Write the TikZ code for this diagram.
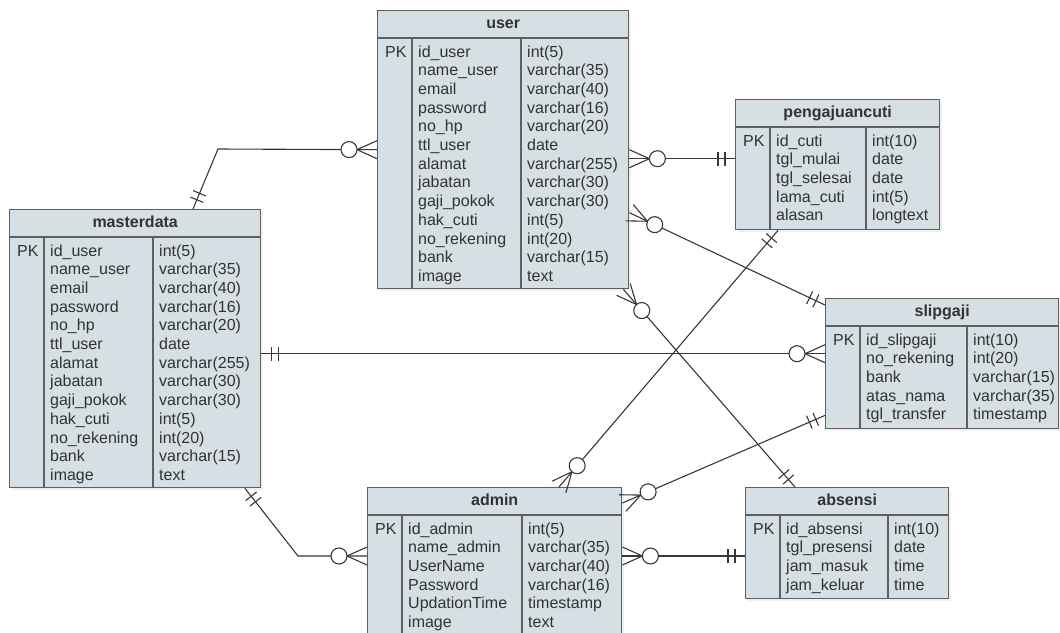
\documentclass[tikz,border=0pt]{standalone}
\usepackage{fontspec}
\setmainfont{Liberation Sans}
\usetikzlibrary{decorations.markings,shadows}

\definecolor{entityfill}{RGB}{214,223,227}
\definecolor{entitydraw}{RGB}{95,95,95}
\definecolor{textgray}{RGB}{50,50,50}
\definecolor{linkgray}{RGB}{55,55,55}

\tikzset{
  entity/.style={draw=entitydraw, line width=1.4pt, fill=entityfill, anchor=north west,
    inner sep=0pt, drop shadow={shadow xshift=2pt, shadow yshift=-2pt, opacity=0.12}},
  entity line/.style={draw=entitydraw, line width=1.4pt},
  title/.style={font=\fontsize{16}{19}\selectfont\bfseries, text=textgray, anchor=base, inner sep=0pt},
  field/.style={font=\fontsize{16}{18.7}\selectfont, text=textgray, anchor=base west, inner sep=0pt},
  link/.style={draw=linkgray, line width=1.1pt},
  one start/.style={postaction={decorate, decoration={markings, mark=at position 0 with
    {\draw[link] (10pt,-7pt) -- (10pt,7pt) (17pt,-7pt) -- (17pt,7pt);}}}},
  one end/.style={postaction={decorate, decoration={markings, mark=at position 1 with
    {\draw[link] (-10pt,-7pt) -- (-10pt,7pt) (-17pt,-7pt) -- (-17pt,7pt);}}}},
  many start/.style={postaction={decorate, decoration={markings, mark=at position 0 with
    {\draw[link] (20pt,0pt) -- (0pt,-9pt) (20pt,0pt) -- (0pt,9pt);
     \draw[link, fill=white] (28pt,0pt) circle (8pt);}}}},
  many end/.style={postaction={decorate, decoration={markings, mark=at position 1 with
    {\draw[link] (-20pt,0pt) -- (0pt,-9pt) (-20pt,0pt) -- (0pt,9pt);
     \draw[link, fill=white] (-28pt,0pt) circle (8pt);}}}}
}

% name, x, y, width, height, type column, title, fields, types
\newcommand{\erentity}[9]{%
  \node[entity, minimum width=#4pt, minimum height=#5pt] (#1) at (#2,#3) {};
  \draw[entity line] ([yshift=-28pt]#1.north west) -- ([yshift=-28pt]#1.north east);
  \draw[entity line] ([xshift=35pt,yshift=-28pt]#1.north west) -- ([xshift=35pt]#1.south west);
  \draw[entity line] ([xshift=#6pt,yshift=-28pt]#1.north west) -- ([xshift=#6pt]#1.south west);
  \node[title] (#1-title) at ([yshift=-18.5pt]#1.north) {#7};
  \node[field] (#1-pk) at ([xshift=8pt,yshift=-47pt]#1.north west) {PK};
  \node[field] (#1-fields) at ([xshift=41pt,yshift=-47pt]#1.north west)
    {\begin{tabular}[t]{@{}l@{}}#8\end{tabular}};
  \node[field] (#1-types) at ([xshift=#6pt+6pt,yshift=-47pt]#1.north west)
    {\begin{tabular}[t]{@{}l@{}}#9\end{tabular}};
}

\begin{document}
\begin{tikzpicture}[x=1pt, y=-1pt]
  \useasboundingbox (0,0) rectangle (1060,632);

  \erentity{user}{377}{10}{251}{278}{144}{user}
    {id\_user\\name\_user\\email\\password\\no\_hp\\ttl\_user\\alamat\\jabatan\\gaji\_pokok\\hak\_cuti\\no\_rekening\\bank\\image}
    {int(5)\\varchar(35)\\varchar(40)\\varchar(16)\\varchar(20)\\date\\varchar(255)\\varchar(30)\\varchar(30)\\int(5)\\int(20)\\varchar(15)\\text}
  \erentity{masterdata}{9}{209}{251}{278}{144}{masterdata}
    {id\_user\\name\_user\\email\\password\\no\_hp\\ttl\_user\\alamat\\jabatan\\gaji\_pokok\\hak\_cuti\\no\_rekening\\bank\\image}
    {int(5)\\varchar(35)\\varchar(40)\\varchar(16)\\varchar(20)\\date\\varchar(255)\\varchar(30)\\varchar(30)\\int(5)\\int(20)\\varchar(15)\\text}
  \erentity{pengajuancuti}{735}{99}{204}{130}{131}{pengajuancuti}
    {id\_cuti\\tgl\_mulai\\tgl\_selesai\\lama\_cuti\\alasan}
    {int(10)\\date\\date\\int(5)\\longtext}
  \erentity{slipgaji}{825}{298}{233}{130}{142}{slipgaji}
    {id\_slipgaji\\no\_rekening\\bank\\atas\_nama\\tgl\_transfer}
    {int(10)\\int(20)\\varchar(15)\\varchar(35)\\timestamp}
  \erentity{admin}{367}{487}{254}{150}{155}{admin}
    {id\_admin\\name\_admin\\UserName\\Password\\UpdationTime\\image}
    {int(5)\\varchar(35)\\varchar(40)\\varchar(16)\\timestamp\\text}
  \erentity{absensi}{745}{487}{203}{111}{143}{absensi}
    {id\_absensi\\tgl\_presensi\\jam\_masuk\\jam\_keluar}
    {int(10)\\date\\time\\time}

  % relation ends
  \coordinate (bendtop) at (218,149);
  \coordinate (bendbot) at (298,556);
  \coordinate (u1) at ([yshift=-9pt]user.east);
  \coordinate (u2) at ([yshift=-63pt]user.east);
  \coordinate (u3) at ([xshift=-6pt]user.south east);
  \coordinate (m1) at ([yshift=-5pt]masterdata.east);
  \coordinate (a1) at ([yshift=-69pt]admin.north west);
  \coordinate (a2) at ([yshift=-69pt]admin.north east);

  \draw[link, one start, many end] ([xshift=184pt]masterdata.north west) -- (bendtop) -- (user.west);
  \draw[link, many start, one end] (u1) -- (u1 -| pengajuancuti.west);
  \draw[link, many start, one end] (u2) -- ([yshift=-7pt]slipgaji.north west);
  \draw[link, many start, one end] (u3) -- ([xshift=50pt]absensi.north west);
  \draw[link, one start, many end] (m1) -- (m1 -| slipgaji.west);
  \draw[link, many start, one end] ([xshift=192pt]admin.north west) -- ([xshift=43pt]pengajuancuti.south west);
  \draw[link, many start, one end] ([yshift=-16pt]admin.north east) -- ([yshift=14pt]slipgaji.south west);
  \draw[link, one start, many end] ([xshift=236pt]masterdata.south west) -- (bendbot) -- (a1);
  \draw[link, line width=2pt, many start, one end] (a2) -- (a2 -| absensi.west);
\end{tikzpicture}
\end{document}
